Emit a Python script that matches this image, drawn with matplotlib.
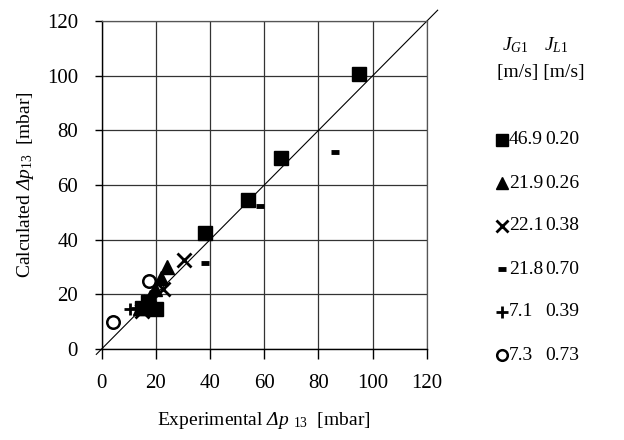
import numpy as np
import matplotlib
matplotlib.use('Agg')
import matplotlib.pyplot as plt

plt.rcParams['font.family'] = ['Liberation Serif', 'DejaVu Serif']
plt.rcParams['mathtext.fontset'] = 'custom'
plt.rcParams['mathtext.rm'] = 'Liberation Serif'
plt.rcParams['mathtext.it'] = 'Liberation Serif:italic'
# 'it' forces capital Greek upright, so use sf slot for a slanted Delta
plt.rcParams['mathtext.sf'] = 'Liberation Serif:italic'

# data: experimental vs calculated dp13 [mbar]
sq_x = [95, 66, 54, 38, 20, 17, 15]
sq_y = [100.5, 70, 54.5, 42.5, 14.5, 17, 15]
tri_x = [24, 22, 19.5, 18, 16, 14]
tri_y = [30, 26, 22, 19, 17, 15]
x_x = [30.5, 22.5, 15, 18]
x_y = [32.5, 22, 14, 17]
dash_x = [86, 58.5, 38]
dash_y = [72, 52.5, 31.5]
plus_x = [10.5, 13]
plus_y = [14.5, 15]
circ_x = [4, 17.5]
circ_y = [10, 25]

jg = ['46.9', '21.9', '22.1', '21.8', '7.1', '7.3']
jl = ['0.20', '0.26', '0.38', '0.70', '0.39', '0.73']

series = [
    (sq_x, sq_y, dict(marker='s', ms=10.5, mfc='k', mec='k')),
    (tri_x, tri_y, dict(marker='^', ms=10.5, mfc='k', mec='k')),
    (x_x, x_y, dict(marker='x', ms=10, mew=2, mec='k')),
    (dash_x, dash_y, dict(marker='_', ms=6, mew=3.5, mec='k')),
    (plus_x, plus_y, dict(marker='+', ms=9, mew=2, mec='k')),
    (circ_x, circ_y, dict(marker='o', ms=9, mew=1.8, mfc='none', mec='k')),
]
scale_leg = [0.85, 0.85, 0.9, 1.0, 1.0, 0.85]

fig = plt.figure(figsize=(6.24, 4.4), dpi=100)
ax = fig.add_axes([0.163, 0.207, 0.521, 0.745])

ax.plot([-2, 124], [-2, 124], color='k', lw=0.8, clip_on=False, zorder=2)
for xs, ys, st in series:
    ax.plot(xs, ys, ls='none', zorder=3, **st)

ax.set_xlim(0, 120)
ax.set_ylim(0, 120)
ax.set_xticks(np.arange(0, 121, 20))
ax.set_yticks(np.arange(0, 121, 20))
ax.grid(True, color='#333333', lw=0.9)
ax.set_axisbelow(True)
for s in ['top', 'right']:
    ax.spines[s].set_color('#555555')
    ax.spines[s].set_linewidth(0.9)
for s in ['left', 'bottom']:
    ax.spines[s].set_linewidth(1.0)
ax.tick_params(axis='x', length=7, width=1, pad=11, labelsize=15)
ax.tick_params(axis='y', length=5, width=1, pad=12, labelsize=15)

ax.set_xlabel(r'Experimental $\mathsf{Δ}\mathit{p}$ $_{\mathit{13}}$  [mbar]', fontsize=14, labelpad=12)
ax.set_ylabel(r'Calculated $\mathsf{Δ}\mathit{p}_{\mathit{13}}$  [mbar]', fontsize=14, labelpad=8)

# legend table on the right
lax = fig.add_axes([0, 0, 1, 1], facecolor='none')
lax.set_xlim(0, 624)
lax.set_ylim(440, 0)
lax.axis('off')

lax.text(502, 45, r'$J_{\mathit{G1}}$', fontsize=14, va='center', ha='left')
lax.text(544, 45, r'$J_{\mathit{L1}}$', fontsize=14, va='center', ha='left')
lax.text(497, 72, '[m/s] [m/s]', fontsize=14, va='center', ha='left')

rows = np.linspace(140, 355, 6)
for (xs, ys, st), k, g, l, yy in zip(series, scale_leg, jg, jl, rows):
    st2 = dict(st)
    st2['ms'] = st['ms'] * k
    lax.plot([502], [yy], ls='none', **st2)
    lax.text(509, yy, g, fontsize=14, va='center', ha='left')
    lax.text(545, yy, l, fontsize=14, va='center', ha='left')

fig.savefig('out.png', dpi=100)
